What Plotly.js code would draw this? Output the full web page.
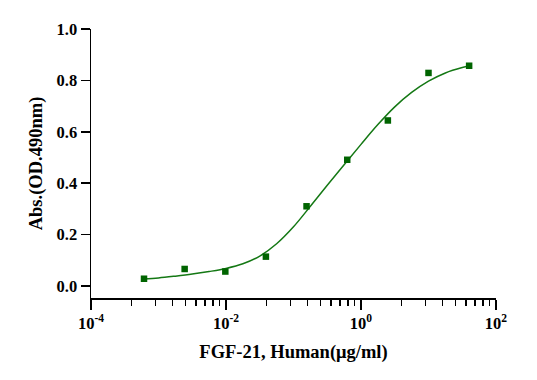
<!DOCTYPE html>
<html>
<head>
<meta charset="utf-8">
<script src="https://cdn.plot.ly/plotly-3.0.1.min.js"></script>
<style>html,body{margin:0;padding:0;background:#fff;}#chart{width:537px;height:380px;}</style>
</head>
<body>
<div id="chart"></div>
<script>
// Measured points (concentration in µg/ml, absorbance)
const concentrations = [0.00061, 0.00244, 0.00977, 0.039, 0.156, 0.625, 2.5, 10, 40];
const absorbance = [0.028, 0.066, 0.056, 0.114, 0.310, 0.491, 0.644, 0.829, 0.857];

// Fitted curve
const curveX = [0.000603, 0.001, 0.001778, 0.003162, 0.005623, 0.01, 0.01778, 0.03162, 0.05623,
                0.1, 0.1778, 0.3162, 0.5623, 1, 1.778, 3.162, 5.623, 10, 17.78, 31.62, 39.8];
const curveY = [0.027, 0.031, 0.038, 0.046, 0.056, 0.068, 0.086, 0.116, 0.164,
                0.230, 0.310, 0.392, 0.472, 0.551, 0.628, 0.697, 0.753, 0.797, 0.829, 0.850, 0.856];

// Axis ticks
const xTickVals = [1e-4, 1e-2, 1, 100];
const xTickText = ['10<sup>-4</sup>', '10<sup>-2</sup>', '10<sup>0</sup>', '10<sup>2</sup>'];
const xMinorTickVals = [4e-4, 9e-4, 1.6e-3, 2.5e-3, 3.6e-3, 4.9e-3, 6.4e-3, 8.1e-3,
                        0.04, 0.09, 0.16, 0.25, 0.36, 0.49, 0.64, 0.81,
                        4, 9, 16, 25, 36, 49, 64, 81];
const yTickVals = [0, 0.2, 0.4, 0.6, 0.8, 1.0];
const yTickText = ['0.0', '0.2', '0.4', '0.6', '0.8', '1.0'];

const serif = 'Liberation Serif, Times New Roman, serif';

const traces = [
  {
    x: curveX, y: curveY, type: 'scatter', mode: 'lines',
    line: {color: 'rgb(20,120,20)', width: 1.5, shape: 'spline', smoothing: 1},
    hoverinfo: 'skip', showlegend: false, cliponaxis: false
  },
  {
    x: concentrations, y: absorbance, type: 'scatter', mode: 'markers',
    marker: {symbol: 'square', size: 6.5, color: 'rgb(0,100,0)'},
    showlegend: false, cliponaxis: false
  }
];

const layout = {
  width: 537, height: 380,
  paper_bgcolor: '#ffffff', plot_bgcolor: '#ffffff',
  margin: {l: 91, r: 41, t: 29, b: 82},
  showlegend: false,
  font: {family: serif, color: '#000'},
  xaxis: {
    type: 'log', range: [-4, 2], autorange: false,
    showgrid: false, zeroline: false,
    showline: true, linecolor: '#000', linewidth: 1.5,
    ticks: 'outside', ticklen: 10, tickwidth: 1.5, tickcolor: '#000',
    tickmode: 'array', tickvals: xTickVals, ticktext: xTickText,
    tickfont: {family: serif, size: 16.5, color: '#000', weight: 'bold'},
    minor: {tickmode: 'array', tickvals: xMinorTickVals, ticks: 'outside', ticklen: 6, tickwidth: 1.2, tickcolor: '#000', showgrid: false},
    title: {text: '<b>FGF-21, Human(μg/ml)</b>', font: {family: serif, size: 18.5, color: '#000'}, standoff: 13},
    automargin: false
  },
  yaxis: {
    range: [-0.047, 1.0], autorange: false,
    showgrid: false, zeroline: false,
    showline: true, linecolor: '#000', linewidth: 1.5,
    ticks: 'outside', ticklen: 9, tickwidth: 1.5, tickcolor: '#000',
    tickmode: 'array', tickvals: yTickVals, ticktext: yTickText,
    tickfont: {family: serif, size: 16.5, color: '#000', weight: 'bold'},
    title: {text: '<b>Abs.(OD.490nm)</b>', font: {family: serif, size: 18.5, color: '#000'}, standoff: 9},
    automargin: false
  }
};

Plotly.newPlot('chart', traces, layout, {displayModeBar: false, staticPlot: true});
</script>
</body>
</html>
